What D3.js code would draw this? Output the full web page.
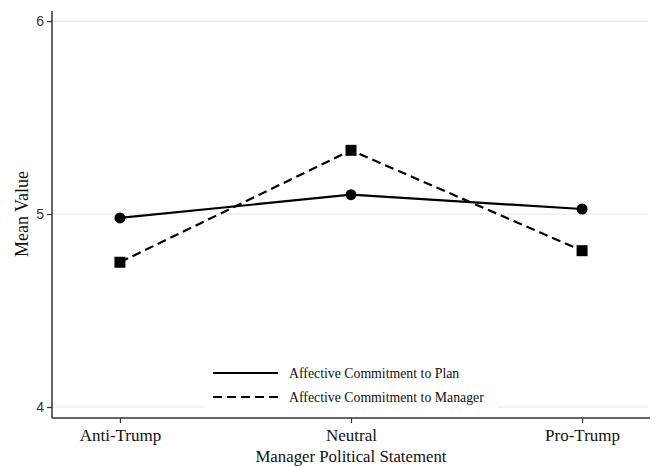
<!DOCTYPE html>
<html>
<head>
<meta charset="utf-8">
<script src="https://cdn.jsdelivr.net/npm/d3@7/dist/d3.min.js"></script>
<style>
  html, body { margin: 0; padding: 0; background: #fff; }
  svg { display: block; font-family: "Liberation Serif", "Times New Roman", serif; }
</style>
</head>
<body>
<svg id="chart" width="656" height="467"></svg>
<script>
// Conditions of the manager's political statement
const categories = ["Anti-Trump", "Neutral", "Pro-Trump"];
// Mean ratings per condition
const planValues = [4.98, 5.10, 5.026];
const managerValues = [4.75, 5.33, 4.81];
const seriesNames = ["Affective Commitment to Plan", "Affective Commitment to Manager"];
const yTicks = [4, 5, 6];

(function () {
const svg = d3.select("#chart");
const plotLeft = 52, plotRight = 650, plotTop = 11, plotBottom = 418;

const x = d3.scaleLinear().domain([0.706, 3.294]).range([plotLeft, plotRight]);
const y = d3.scaleLinear().domain([3.943, 6.052]).range([plotBottom, plotTop]);

// horizontal gridlines
svg.append("g").selectAll("line").data(yTicks).join("line")
  .attr("x1", plotLeft).attr("x2", 648)
  .attr("y1", d => y(d)).attr("y2", d => y(d))
  .attr("stroke", "#e8e8e8").attr("stroke-width", 1.2);

const series = [
  { name: seriesNames[0], values: planValues, dash: null, marker: "circle" },
  { name: seriesNames[1], values: managerValues, dash: "9,5", marker: "square" }
];

const line = d3.line().x((d, i) => x(i + 1)).y(d => y(d));

series.forEach(s => {
  svg.append("path")
    .datum(s.values)
    .attr("d", line)
    .attr("fill", "none")
    .attr("stroke", "#000")
    .attr("stroke-width", 2.2)
    .attr("stroke-dasharray", s.dash);
  if (s.marker === "circle") {
    svg.append("g").selectAll("circle").data(s.values).join("circle")
      .attr("cx", (d, i) => x(i + 1)).attr("cy", d => y(d)).attr("r", 5.5)
      .attr("fill", "#000");
  } else {
    svg.append("g").selectAll("rect").data(s.values).join("rect")
      .attr("x", (d, i) => x(i + 1) - 5.5).attr("y", d => y(d) - 5.5)
      .attr("width", 11).attr("height", 11)
      .attr("fill", "#000");
  }
});

// legend, with a white box over the gridlines
const legend = svg.append("g").attr("transform", "translate(205,361)");
legend.append("rect").attr("x", 0).attr("y", 0).attr("width", 292).attr("height", 50)
  .attr("fill", "#fff");
series.forEach((s, i) => {
  const ly = 12 + i * 24;
  legend.append("line")
    .attr("x1", 8).attr("x2", 73).attr("y1", ly).attr("y2", ly)
    .attr("stroke", "#000").attr("stroke-width", 2.2)
    .attr("stroke-dasharray", s.dash);
  legend.append("text")
    .attr("x", 84).attr("y", ly + 4.5)
    .attr("font-size", 13.8).attr("fill", "#111")
    .text(s.name);
});

// y axis
const yAxis = svg.append("g").attr("transform", `translate(${plotLeft},0)`)
  .call(d3.axisLeft(y).tickValues(yTicks).tickFormat(d3.format("d")).tickSize(5).tickPadding(3));
yAxis.select(".domain").attr("d", `M0,${plotTop}V${plotBottom}`).attr("stroke", "#333").attr("stroke-width", 1.5);
yAxis.selectAll(".tick line").attr("stroke", "#333").attr("stroke-width", 1.2);
yAxis.selectAll(".tick text").attr("font-size", 14).attr("fill", "#333")
  .attr("font-family", "Liberation Sans, Arial, sans-serif");

// x axis
const xAxis = svg.append("g").attr("transform", `translate(0,${plotBottom})`)
  .call(d3.axisBottom(x).tickValues([1, 2, 3]).tickFormat(d => categories[d - 1]).tickSize(5).tickPadding(6));
xAxis.select(".domain").attr("d", `M${plotLeft},0H${plotRight}`).attr("stroke", "#333").attr("stroke-width", 1.5);
xAxis.selectAll(".tick line").attr("stroke", "#333").attr("stroke-width", 1.2);
xAxis.selectAll(".tick text").attr("font-size", 17).attr("fill", "#111")
  .attr("font-family", "Liberation Serif, Times New Roman, serif");

// axis titles
svg.append("text")
  .attr("transform", `translate(28,${y(5)}) rotate(-90)`)
  .attr("text-anchor", "middle")
  .attr("font-size", 18).attr("fill", "#111")
  .text("Mean Value");

svg.append("text")
  .attr("x", x(2)).attr("y", 462)
  .attr("text-anchor", "middle")
  .attr("font-size", 16.8).attr("fill", "#111")
  .text("Manager Political Statement");
})();
</script>
</body>
</html>
